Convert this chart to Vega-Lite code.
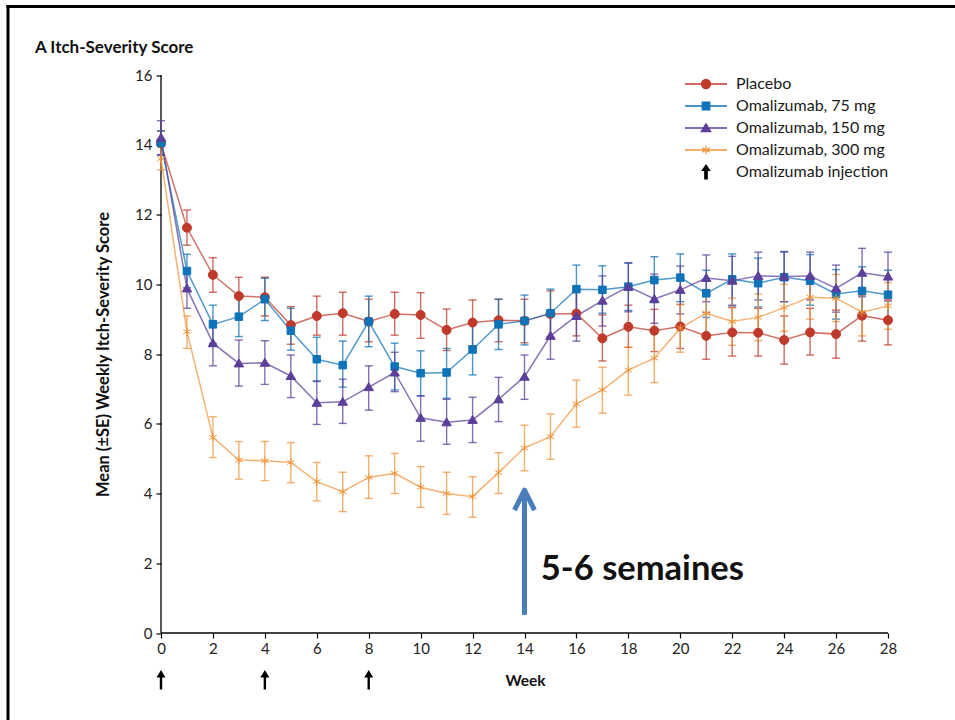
{
  "$schema": "https://vega.github.io/schema/vega-lite/v6.json",
  "width": 947,
  "height": 713.5,
  "autosize": {"type": "none"},
  "padding": {"left": 8, "top": 6.5, "right": 0, "bottom": 0},
  "background": "white",
  "config": {"view": {"stroke": null}, "font": "Lato"},
  "title": {"text": "A  Itch-Severity Score", "anchor": "start", "frame": "group", "orient": "top", "font": "Lato", "fontSize": 17, "fontWeight": "bold", "color": "#111", "baseline": "alphabetic", "dx": 27, "dy": 66, "offset": 0},
  "datasets": {
    "d": [
      {"group": "Placebo", "week": 0, "mean": 14.04, "lo": 13.7, "hi": 14.39},
      {"group": "Placebo", "week": 1, "mean": 11.62, "lo": 11.12, "hi": 12.13},
      {"group": "Placebo", "week": 2, "mean": 10.27, "lo": 9.77, "hi": 10.76},
      {"group": "Placebo", "week": 3, "mean": 9.66, "lo": 9.15, "hi": 10.2},
      {"group": "Placebo", "week": 4, "mean": 9.63, "lo": 9.09, "hi": 10.2},
      {"group": "Placebo", "week": 5, "mean": 8.83, "lo": 8.28, "hi": 9.36},
      {"group": "Placebo", "week": 6, "mean": 9.09, "lo": 8.54, "hi": 9.66},
      {"group": "Placebo", "week": 7, "mean": 9.17, "lo": 8.54, "hi": 9.77},
      {"group": "Placebo", "week": 8, "mean": 8.93, "lo": 8.35, "hi": 9.57},
      {"group": "Placebo", "week": 9, "mean": 9.15, "lo": 8.54, "hi": 9.77},
      {"group": "Placebo", "week": 10, "mean": 9.12, "lo": 8.45, "hi": 9.76},
      {"group": "Placebo", "week": 11, "mean": 8.69, "lo": 8.1, "hi": 9.29},
      {"group": "Placebo", "week": 12, "mean": 8.9, "lo": 8.23, "hi": 9.55},
      {"group": "Placebo", "week": 13, "mean": 8.97, "lo": 8.35, "hi": 9.57},
      {"group": "Placebo", "week": 14, "mean": 8.95, "lo": 8.32, "hi": 9.57},
      {"group": "Placebo", "week": 15, "mean": 9.15, "lo": 8.5, "hi": 9.81},
      {"group": "Placebo", "week": 16, "mean": 9.16, "lo": 8.52, "hi": 9.81},
      {"group": "Placebo", "week": 17, "mean": 8.45, "lo": 7.8, "hi": 9.12},
      {"group": "Placebo", "week": 18, "mean": 8.78, "lo": 8.19, "hi": 9.4},
      {"group": "Placebo", "week": 19, "mean": 8.67, "lo": 8.07, "hi": 9.28},
      {"group": "Placebo", "week": 20, "mean": 8.79, "lo": 8.16, "hi": 9.42},
      {"group": "Placebo", "week": 21, "mean": 8.52, "lo": 7.85, "hi": 9.19},
      {"group": "Placebo", "week": 22, "mean": 8.62, "lo": 7.94, "hi": 9.33},
      {"group": "Placebo", "week": 23, "mean": 8.61, "lo": 7.94, "hi": 9.31},
      {"group": "Placebo", "week": 24, "mean": 8.4, "lo": 7.71, "hi": 9.09},
      {"group": "Placebo", "week": 25, "mean": 8.62, "lo": 7.97, "hi": 9.31},
      {"group": "Placebo", "week": 26, "mean": 8.57, "lo": 7.88, "hi": 9.26},
      {"group": "Placebo", "week": 27, "mean": 9.1, "lo": 8.37, "hi": 9.69},
      {"group": "Placebo", "week": 28, "mean": 8.97, "lo": 8.26, "hi": 9.55},
      {"group": "Omalizumab, 75 mg", "week": 0, "mean": 14.05, "lo": 13.7, "hi": 14.4},
      {"group": "Omalizumab, 75 mg", "week": 1, "mean": 10.38, "lo": 9.9, "hi": 10.86},
      {"group": "Omalizumab, 75 mg", "week": 2, "mean": 8.85, "lo": 8.3, "hi": 9.4},
      {"group": "Omalizumab, 75 mg", "week": 3, "mean": 9.07, "lo": 8.5, "hi": 9.65},
      {"group": "Omalizumab, 75 mg", "week": 4, "mean": 9.57, "lo": 8.96, "hi": 10.17},
      {"group": "Omalizumab, 75 mg", "week": 5, "mean": 8.67, "lo": 8.11, "hi": 9.31},
      {"group": "Omalizumab, 75 mg", "week": 6, "mean": 7.85, "lo": 7.21, "hi": 8.48},
      {"group": "Omalizumab, 75 mg", "week": 7, "mean": 7.68, "lo": 7.05, "hi": 8.37},
      {"group": "Omalizumab, 75 mg", "week": 8, "mean": 8.93, "lo": 8.21, "hi": 9.66},
      {"group": "Omalizumab, 75 mg", "week": 9, "mean": 7.64, "lo": 6.97, "hi": 8.31},
      {"group": "Omalizumab, 75 mg", "week": 10, "mean": 7.45, "lo": 6.8, "hi": 8.09},
      {"group": "Omalizumab, 75 mg", "week": 11, "mean": 7.47, "lo": 6.73, "hi": 8.16},
      {"group": "Omalizumab, 75 mg", "week": 12, "mean": 8.13, "lo": 7.4, "hi": 8.88},
      {"group": "Omalizumab, 75 mg", "week": 13, "mean": 8.85, "lo": 8.13, "hi": 9.57},
      {"group": "Omalizumab, 75 mg", "week": 14, "mean": 8.95, "lo": 8.26, "hi": 9.69},
      {"group": "Omalizumab, 75 mg", "week": 15, "mean": 9.17, "lo": 8.47, "hi": 9.86},
      {"group": "Omalizumab, 75 mg", "week": 16, "mean": 9.86, "lo": 9.12, "hi": 10.55},
      {"group": "Omalizumab, 75 mg", "week": 17, "mean": 9.84, "lo": 9.17, "hi": 10.53},
      {"group": "Omalizumab, 75 mg", "week": 18, "mean": 9.93, "lo": 9.25, "hi": 10.6},
      {"group": "Omalizumab, 75 mg", "week": 19, "mean": 10.12, "lo": 9.47, "hi": 10.79},
      {"group": "Omalizumab, 75 mg", "week": 20, "mean": 10.19, "lo": 9.5, "hi": 10.87},
      {"group": "Omalizumab, 75 mg", "week": 21, "mean": 9.74, "lo": 9.05, "hi": 10.4},
      {"group": "Omalizumab, 75 mg", "week": 22, "mean": 10.14, "lo": 9.38, "hi": 10.87},
      {"group": "Omalizumab, 75 mg", "week": 23, "mean": 10.03, "lo": 9.35, "hi": 10.75},
      {"group": "Omalizumab, 75 mg", "week": 24, "mean": 10.2, "lo": 9.5, "hi": 10.92},
      {"group": "Omalizumab, 75 mg", "week": 25, "mean": 10.1, "lo": 9.4, "hi": 10.85},
      {"group": "Omalizumab, 75 mg", "week": 26, "mean": 9.72, "lo": 9.0, "hi": 10.42},
      {"group": "Omalizumab, 75 mg", "week": 27, "mean": 9.81, "lo": 9.1, "hi": 10.5},
      {"group": "Omalizumab, 75 mg", "week": 28, "mean": 9.7, "lo": 9.0, "hi": 10.4},
      {"group": "Omalizumab, 150 mg", "week": 0, "mean": 14.2, "lo": 13.72, "hi": 14.69},
      {"group": "Omalizumab, 150 mg", "week": 1, "mean": 9.88, "lo": 9.31, "hi": 10.45},
      {"group": "Omalizumab, 150 mg", "week": 2, "mean": 8.31, "lo": 7.66, "hi": 8.96},
      {"group": "Omalizumab, 150 mg", "week": 3, "mean": 7.73, "lo": 7.08, "hi": 8.4},
      {"group": "Omalizumab, 150 mg", "week": 4, "mean": 7.75, "lo": 7.13, "hi": 8.38},
      {"group": "Omalizumab, 150 mg", "week": 5, "mean": 7.37, "lo": 6.75, "hi": 7.97},
      {"group": "Omalizumab, 150 mg", "week": 6, "mean": 6.6, "lo": 5.98, "hi": 7.23},
      {"group": "Omalizumab, 150 mg", "week": 7, "mean": 6.63, "lo": 6.01, "hi": 7.28},
      {"group": "Omalizumab, 150 mg", "week": 8, "mean": 7.05, "lo": 6.39, "hi": 7.66},
      {"group": "Omalizumab, 150 mg", "week": 9, "mean": 7.47, "lo": 6.92, "hi": 8.05},
      {"group": "Omalizumab, 150 mg", "week": 10, "mean": 6.17, "lo": 5.5, "hi": 6.8},
      {"group": "Omalizumab, 150 mg", "week": 11, "mean": 6.04, "lo": 5.41, "hi": 6.7},
      {"group": "Omalizumab, 150 mg", "week": 12, "mean": 6.11, "lo": 5.46, "hi": 6.76},
      {"group": "Omalizumab, 150 mg", "week": 13, "mean": 6.7, "lo": 6.06, "hi": 7.33},
      {"group": "Omalizumab, 150 mg", "week": 14, "mean": 7.35, "lo": 6.7, "hi": 7.97},
      {"group": "Omalizumab, 150 mg", "week": 15, "mean": 8.52, "lo": 7.85, "hi": 9.15},
      {"group": "Omalizumab, 150 mg", "week": 16, "mean": 9.09, "lo": 8.37, "hi": 9.8},
      {"group": "Omalizumab, 150 mg", "week": 17, "mean": 9.53, "lo": 8.8, "hi": 10.24},
      {"group": "Omalizumab, 150 mg", "week": 18, "mean": 9.93, "lo": 9.21, "hi": 10.62},
      {"group": "Omalizumab, 150 mg", "week": 19, "mean": 9.58, "lo": 8.88, "hi": 10.29},
      {"group": "Omalizumab, 150 mg", "week": 20, "mean": 9.84, "lo": 9.15, "hi": 10.52},
      {"group": "Omalizumab, 150 mg", "week": 21, "mean": 10.18, "lo": 9.5, "hi": 10.84},
      {"group": "Omalizumab, 150 mg", "week": 22, "mean": 10.1, "lo": 9.4, "hi": 10.8},
      {"group": "Omalizumab, 150 mg", "week": 23, "mean": 10.24, "lo": 9.55, "hi": 10.92},
      {"group": "Omalizumab, 150 mg", "week": 24, "mean": 10.22, "lo": 9.5, "hi": 10.94},
      {"group": "Omalizumab, 150 mg", "week": 25, "mean": 10.24, "lo": 9.55, "hi": 10.92},
      {"group": "Omalizumab, 150 mg", "week": 26, "mean": 9.88, "lo": 9.2, "hi": 10.55},
      {"group": "Omalizumab, 150 mg", "week": 27, "mean": 10.33, "lo": 9.64, "hi": 11.03},
      {"group": "Omalizumab, 150 mg", "week": 28, "mean": 10.22, "lo": 9.52, "hi": 10.92},
      {"group": "Omalizumab, 300 mg", "week": 0, "mean": 13.6, "lo": 13.28, "hi": 13.95},
      {"group": "Omalizumab, 300 mg", "week": 1, "mean": 8.64, "lo": 8.16, "hi": 9.09},
      {"group": "Omalizumab, 300 mg", "week": 2, "mean": 5.61, "lo": 5.03, "hi": 6.2},
      {"group": "Omalizumab, 300 mg", "week": 3, "mean": 4.96, "lo": 4.41, "hi": 5.49},
      {"group": "Omalizumab, 300 mg", "week": 4, "mean": 4.94, "lo": 4.37, "hi": 5.49},
      {"group": "Omalizumab, 300 mg", "week": 5, "mean": 4.89, "lo": 4.31, "hi": 5.46},
      {"group": "Omalizumab, 300 mg", "week": 6, "mean": 4.34, "lo": 3.79, "hi": 4.89},
      {"group": "Omalizumab, 300 mg", "week": 7, "mean": 4.05, "lo": 3.48, "hi": 4.61},
      {"group": "Omalizumab, 300 mg", "week": 8, "mean": 4.46, "lo": 3.86, "hi": 5.08},
      {"group": "Omalizumab, 300 mg", "week": 9, "mean": 4.58, "lo": 4.0, "hi": 5.15},
      {"group": "Omalizumab, 300 mg", "week": 10, "mean": 4.18, "lo": 3.6, "hi": 4.77},
      {"group": "Omalizumab, 300 mg", "week": 11, "mean": 4.0, "lo": 3.4, "hi": 4.61},
      {"group": "Omalizumab, 300 mg", "week": 12, "mean": 3.91, "lo": 3.32, "hi": 4.48},
      {"group": "Omalizumab, 300 mg", "week": 13, "mean": 4.6, "lo": 4.0, "hi": 5.17},
      {"group": "Omalizumab, 300 mg", "week": 14, "mean": 5.31, "lo": 4.65, "hi": 5.96},
      {"group": "Omalizumab, 300 mg", "week": 15, "mean": 5.63, "lo": 4.98, "hi": 6.28},
      {"group": "Omalizumab, 300 mg", "week": 16, "mean": 6.57, "lo": 5.9, "hi": 7.25},
      {"group": "Omalizumab, 300 mg", "week": 17, "mean": 6.97, "lo": 6.3, "hi": 7.62},
      {"group": "Omalizumab, 300 mg", "week": 18, "mean": 7.54, "lo": 6.82, "hi": 8.19},
      {"group": "Omalizumab, 300 mg", "week": 19, "mean": 7.88, "lo": 7.18, "hi": 8.58},
      {"group": "Omalizumab, 300 mg", "week": 20, "mean": 8.74, "lo": 8.05, "hi": 9.42},
      {"group": "Omalizumab, 300 mg", "week": 21, "mean": 9.17, "lo": 8.5, "hi": 9.85},
      {"group": "Omalizumab, 300 mg", "week": 22, "mean": 8.93, "lo": 8.25, "hi": 9.6},
      {"group": "Omalizumab, 300 mg", "week": 23, "mean": 9.05, "lo": 8.38, "hi": 9.72},
      {"group": "Omalizumab, 300 mg", "week": 24, "mean": 9.33, "lo": 8.65, "hi": 10.0},
      {"group": "Omalizumab, 300 mg", "week": 25, "mean": 9.63, "lo": 9.0, "hi": 10.24},
      {"group": "Omalizumab, 300 mg", "week": 26, "mean": 9.6, "lo": 8.93, "hi": 10.28},
      {"group": "Omalizumab, 300 mg", "week": 27, "mean": 9.2, "lo": 8.52, "hi": 9.88},
      {"group": "Omalizumab, 300 mg", "week": 28, "mean": 9.38, "lo": 8.71, "hi": 10.05}
    ],
    "inj": [
      {"group": "Omalizumab injection", "week": 0},
      {"group": "Omalizumab injection", "week": 4},
      {"group": "Omalizumab injection", "week": 8}
    ],
    "note": [{"label": "5-6 semaines"}]
  },
  "layer": [
    {
      "data": {"name": "note"},
      "mark": {"type": "rule", "color": "black", "strokeWidth": 3, "strokeCap": "square"},
      "encoding": {
        "x": {"datum": -5.8927, "type": "quantitative", "scale": {"domain": [-5.8927, 30.5804], "nice": false, "zero": false}, "title": "Week",
          "axis": {"orient": "bottom", "offset": -87, "values": [0,1,2,3,4,5,6,7,8,9,10,11,12,13,14,15,16,17,18,19,20,21,22,23,24,25,26,27,28], "labelExpr": "datum.value % 2 === 0 ? datum.label : ''", "labelOverlap": false, "labelFlush": false, "domain": false, "grid": false, "tickSize": 5, "tickColor": "black", "tickWidth": 1.2, "labelFont": "Lato", "labelFontSize": 15, "labelColor": "#222", "labelPadding": 3, "title": "Week", "titleFont": "Lato", "titleFontSize": 15.5, "titleFontWeight": "bold", "titleColor": "#111", "titleX": 517, "titleY": 47, "titleBaseline": "middle", "titleAlign": "center"}},
        "x2": {"datum": 30.5804},
        "y": {"datum": 17.9642, "type": "quantitative", "scale": {"domain": [-2.4946, 17.9642], "nice": false, "zero": false}, "title": "Mean (±SE) Weekly Itch-Severity Score",
          "axis": {"orient": "left", "offset": -153, "values": [0,2,4,6,8,10,12,14,16], "labelOverlap": false, "labelFlush": false, "domain": false, "grid": false, "tickSize": 5, "tickColor": "black", "tickWidth": 1.2, "labelFont": "Lato", "labelFontSize": 15, "labelColor": "#222", "labelPadding": 4, "title": "Mean (±SE) Weekly Itch-Severity Score", "titleFont": "Lato", "titleFontSize": 16.5, "titleFontWeight": "bold", "titleColor": "#111", "titleX": -58, "titleY": 347.5, "titleBaseline": "middle", "titleAlign": "center", "titleAngle": -90}}
      }
    },
    {
      "data": {"name": "note"},
      "mark": {"type": "rule", "color": "black", "strokeWidth": 3, "strokeCap": "square"},
      "encoding": {
        "x": {"datum": -5.8927, "type": "quantitative", "scale": {"domain": [-5.8927, 30.5804], "nice": false, "zero": false}, "title": "Week"},
        "y": {"datum": -2.4946, "type": "quantitative", "scale": {"domain": [-2.4946, 17.9642], "nice": false, "zero": false}, "title": "Mean (±SE) Weekly Itch-Severity Score"},
        "y2": {"datum": 17.9642}
      }
    },
    {
      "data": {"name": "note"},
      "mark": {"type": "rule", "color": "black", "strokeWidth": 1.3},
      "encoding": {
        "x": {"datum": 0, "type": "quantitative", "scale": {"domain": [-5.8927, 30.5804], "nice": false, "zero": false}, "title": "Week"},
        "x2": {"datum": 28},
        "y": {"datum": 0, "type": "quantitative", "scale": {"domain": [-2.4946, 17.9642], "nice": false, "zero": false}, "title": "Mean (±SE) Weekly Itch-Severity Score"}
      }
    },
    {
      "data": {"name": "note"},
      "mark": {"type": "rule", "color": "black", "strokeWidth": 1.3},
      "encoding": {
        "x": {"datum": 0, "type": "quantitative", "scale": {"domain": [-5.8927, 30.5804], "nice": false, "zero": false}, "title": "Week"},
        "y": {"datum": 0, "type": "quantitative", "scale": {"domain": [-2.4946, 17.9642], "nice": false, "zero": false}, "title": "Mean (±SE) Weekly Itch-Severity Score"},
        "y2": {"datum": 16}
      }
    },
    {
      "data": {"name": "d"},
      "mark": {"type": "errorbar", "ticks": true, "size": 8, "thickness": 1.4, "opacity": 0.75},
      "encoding": {
        "x": {"field": "week", "type": "quantitative", "scale": {"domain": [-5.8927, 30.5804], "nice": false, "zero": false}, "title": "Week"},
        "y": {"field": "lo", "type": "quantitative", "scale": {"domain": [-2.4946, 17.9642], "nice": false, "zero": false}, "title": "Mean (±SE) Weekly Itch-Severity Score"},
        "y2": {"field": "hi", "title": "Mean (±SE) Weekly Itch-Severity Score"},
        "color": {"field": "group", "type": "nominal", "scale": {"domain": ["Placebo", "Omalizumab, 75 mg", "Omalizumab, 150 mg", "Omalizumab, 300 mg"], "range": ["#BF3A2B", "#0E73B7", "#5B3F99", "#F0963C"]}, "legend": null}
      }
    },
    {
      "data": {"name": "d"},
      "mark": {"type": "line", "strokeWidth": 1.5, "opacity": 0.72},
      "encoding": {
        "x": {"field": "week", "type": "quantitative", "scale": {"domain": [-5.8927, 30.5804], "nice": false, "zero": false}, "title": "Week"},
        "y": {"field": "mean", "type": "quantitative", "scale": {"domain": [-2.4946, 17.9642], "nice": false, "zero": false}, "title": "Mean (±SE) Weekly Itch-Severity Score"},
        "color": {"field": "group", "type": "nominal", "scale": {"domain": ["Placebo", "Omalizumab, 75 mg", "Omalizumab, 150 mg", "Omalizumab, 300 mg"], "range": ["#BF3A2B", "#0E73B7", "#5B3F99", "#F0963C"]}, "legend": null}
      }
    },
    {
      "data": {"name": "d"},
      "mark": {"type": "point", "size": 100, "strokeWidth": 1, "opacity": 1, "fillOpacity": 1},
      "encoding": {
        "x": {"field": "week", "type": "quantitative", "scale": {"domain": [-5.8927, 30.5804], "nice": false, "zero": false}, "title": "Week"},
        "y": {"field": "mean", "type": "quantitative", "scale": {"domain": [-2.4946, 17.9642], "nice": false, "zero": false}, "title": "Mean (±SE) Weekly Itch-Severity Score"},
        "fill": {"field": "group", "type": "nominal", "scale": {"domain": ["Placebo", "Omalizumab, 75 mg", "Omalizumab, 150 mg", "Omalizumab, 300 mg"], "range": ["#BF3A2B", "#0E73B7", "#5B3F99", "#F0963C"]}, "legend": null},
        "stroke": {"field": "group", "type": "nominal", "scale": {"domain": ["Placebo", "Omalizumab, 75 mg", "Omalizumab, 150 mg", "Omalizumab, 300 mg"], "range": ["#BF3A2B", "#0E73B7", "#5B3F99", "#F0963C"]}, "legend": null},
        "shape": {"field": "group", "type": "nominal", "scale": {"domain": ["Placebo", "Omalizumab, 75 mg", "Omalizumab, 150 mg", "Omalizumab, 300 mg"], "range": ["M-0.9,0A0.9,0.9,0,1,1,0.9,0A0.9,0.9,0,1,1,-0.9,0Z", "M-0.75,-0.75H0.75V0.75H-0.75Z", "M0,-0.9L0.95,0.7H-0.95Z", "M0,-0.85V0.85M-0.74,-0.42L0.74,0.42M-0.74,0.42L0.74,-0.42"]}, "legend": null}
      }
    },
    {
      "data": {"name": "inj"},
      "mark": {"type": "point", "shape": "M0,-1L0.45,-0.25L0.12,-0.25L0.12,0.95L-0.12,0.95L-0.12,-0.25L-0.45,-0.25Z", "size": 400, "filled": true, "color": "black", "opacity": 1, "strokeWidth": 0},
      "encoding": {
        "x": {"field": "week", "type": "quantitative", "scale": {"domain": [-5.8927, 30.5804], "nice": false, "zero": false}, "title": "Week"},
        "y": {"datum": -1.35, "type": "quantitative", "scale": {"domain": [-2.4946, 17.9642], "nice": false, "zero": false}, "title": "Mean (±SE) Weekly Itch-Severity Score"}
      }
    },
    {
      "data": {"name": "note"},
      "mark": {"type": "rule", "color": "#4A7EBB", "strokeWidth": 5},
      "encoding": {
        "x": {"datum": 14, "type": "quantitative", "scale": {"domain": [-5.8927, 30.5804], "nice": false, "zero": false}, "title": "Week"},
        "y": {"datum": 0.52, "type": "quantitative", "scale": {"domain": [-2.4946, 17.9642], "nice": false, "zero": false}, "title": "Mean (±SE) Weekly Itch-Severity Score"},
        "y2": {"datum": 4.0}
      }
    },
    {
      "data": {"name": "note"},
      "mark": {"type": "point", "shape": "M-1,1L0,-1L1,1", "size": 400, "filled": false, "color": "#4A7EBB", "opacity": 1, "strokeWidth": 5, "strokeJoin": "round"},
      "encoding": {
        "x": {"datum": 14, "type": "quantitative", "scale": {"domain": [-5.8927, 30.5804], "nice": false, "zero": false}, "title": "Week"},
        "y": {"datum": 3.81, "type": "quantitative", "scale": {"domain": [-2.4946, 17.9642], "nice": false, "zero": false}, "title": "Mean (±SE) Weekly Itch-Severity Score"}
      }
    },
    {
      "data": {"name": "note"},
      "mark": {"type": "text", "align": "left", "baseline": "middle", "font": "Lato", "fontSize": 34.5, "fontWeight": "bold", "color": "#111"},
      "encoding": {
        "x": {"datum": 14.63, "type": "quantitative", "scale": {"domain": [-5.8927, 30.5804], "nice": false, "zero": false}, "title": "Week"},
        "y": {"datum": 1.82, "type": "quantitative", "scale": {"domain": [-2.4946, 17.9642], "nice": false, "zero": false}, "title": "Mean (±SE) Weekly Itch-Severity Score"},
        "text": {"field": "label"}
      }
    },
    {
      "data": {"name": "d"},
      "transform": [{"filter": {"field": "week", "lt": -1}}],
      "mark": {"type": "point", "size": 1764, "strokeWidth": 1.3, "opacity": 1, "fillOpacity": 1},
      "encoding": {
        "fill": {"field": "group", "type": "nominal", "scale": {"domain": ["Placebo", "Omalizumab, 75 mg", "Omalizumab, 150 mg", "Omalizumab, 300 mg", "Omalizumab injection"], "range": ["#BF3A2B", "#0E73B7", "#5B3F99", "#F0963C", "#000000"]},
          "legend": {"title": null, "orient": "none", "legendX": 676, "legendY": 66.5, "padding": 0, "symbolSize": 1764, "symbolStrokeWidth": 1.3, "symbolOpacity": 1, "labelFont": "Lato", "labelFontSize": 16, "labelColor": "#1a1a1a", "labelOffset": 8, "rowPadding": 0, "clipHeight": 22, "labelLimit": 300}},
        "stroke": {"field": "group", "type": "nominal", "scale": {"domain": ["Placebo", "Omalizumab, 75 mg", "Omalizumab, 150 mg", "Omalizumab, 300 mg", "Omalizumab injection"], "range": ["#BF3A2B", "#0E73B7", "#5B3F99", "#F0963C", "#000000"]},
          "legend": {"title": null, "orient": "none", "legendX": 676, "legendY": 66.5, "padding": 0, "symbolSize": 1764, "symbolStrokeWidth": 1.3, "symbolOpacity": 1, "labelFont": "Lato", "labelFontSize": 16, "labelColor": "#1a1a1a", "labelOffset": 8, "rowPadding": 0, "clipHeight": 22, "labelLimit": 300}},
        "shape": {"field": "group", "type": "nominal", "scale": {"domain": ["Placebo", "Omalizumab, 75 mg", "Omalizumab, 150 mg", "Omalizumab, 300 mg", "Omalizumab injection"], "range": ["M-1,0H1M-0.214,0A0.214,0.214,0,1,1,0.214,0A0.214,0.214,0,1,1,-0.214,0Z", "M-1,0H1M-0.179,-0.179H0.179V0.179H-0.179Z", "M-1,0H1M0,-0.2L0.226,0.167H-0.226Z", "M-1,0H1M0,-0.2V0.2M-0.173,-0.1L0.173,0.1M-0.173,0.1L0.173,-0.1", "M0,-0.33L0.17,-0.08L0.055,-0.08L0.055,0.33L-0.055,0.33L-0.055,-0.08L-0.17,-0.08Z"]},
          "legend": {"title": null, "orient": "none", "legendX": 676, "legendY": 66.5, "padding": 0, "symbolSize": 1764, "symbolStrokeWidth": 1.3, "symbolOpacity": 1, "labelFont": "Lato", "labelFontSize": 16, "labelColor": "#1a1a1a", "labelOffset": 8, "rowPadding": 0, "clipHeight": 22, "labelLimit": 300}}
      }
    }
  ],
  "resolve": {"scale": {"fill": "independent", "stroke": "independent", "shape": "independent"}}
}
